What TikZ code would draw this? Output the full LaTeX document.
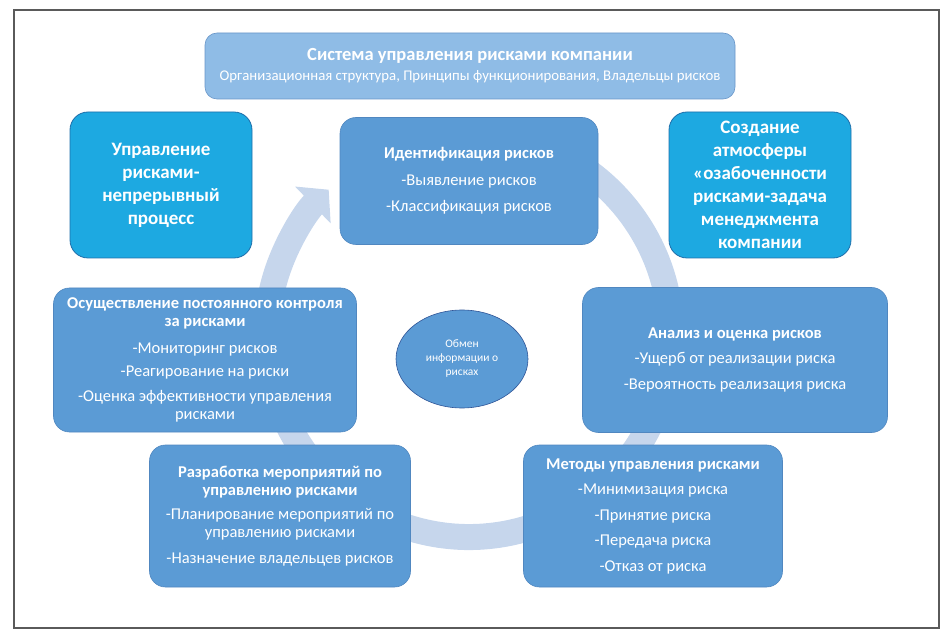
\documentclass[tikz,border=0pt]{standalone}
\usepackage{fontspec}
\setmainfont{Carlito}
\usetikzlibrary{arrows.meta, shapes.geometric}

\definecolor{stageblue}{RGB}{91,155,213}
\definecolor{stageedge}{RGB}{80,135,192}
\definecolor{noteblue}{RGB}{29,169,225}
\definecolor{noteedge}{RGB}{30,110,170}
\definecolor{headblue}{RGB}{143,188,230}
\definecolor{headedge}{RGB}{105,150,200}
\definecolor{ringblue}{RGB}{198,214,236}
\definecolor{framegray}{RGB}{90,90,90}
\definecolor{infoedge}{RGB}{47,85,151}

\begin{document}
\begin{tikzpicture}[x=1pt, y=-1pt,
  stage/.style={rectangle, rounded corners=16pt, fill=stageblue, draw=stageedge, line width=0.6pt,
    text=white, align=center, inner sep=0pt, font=\fontsize{16.5}{18.5}\selectfont},
  note/.style={rectangle, rounded corners=18pt, fill=noteblue, draw=noteedge, line width=0.8pt,
    text=white, align=center, inner sep=0pt, minimum width=182pt, minimum height=146pt,
    font=\bfseries\fontsize{19}{23}\selectfont},
  ring/.style={line width=26pt, draw=ringblue, -{Triangle[width=50pt,length=22pt]}}]

  \useasboundingbox (0,0) rectangle (951,636);
  \draw[framegray, line width=1.3pt] (14,10) rectangle (939,628);

  % Ring
  \coordinate (hub) at (469,335);
  \draw[ring] ([shift={(-70:202)}]hub) arc[start angle=-70, end angle=226, radius=202];

  % Nodes
  \node[rectangle, rounded corners=12pt, fill=headblue, draw=headedge, line width=0.6pt, text=white,
    align=center, inner sep=0pt, minimum width=530pt, minimum height=66pt,
    font=\fontsize{14.8}{20}\selectfont] (sys) at (470,66)
    {{\bfseries\fontsize{18.5}{20}\selectfont Система управления рисками компании}\\
     Организационная структура, Принципы функционирования, Владельцы рисков};

  \node[note] (cont) at (161,185) {Управление\\рисками-\\непрерывный\\процесс};
  \node[note] (mood) at (760,185) {Создание\\атмосферы\\«озабоченности\\рисками-задача\\менеджмента\\компании};

  \node[stage, minimum width=258pt, minimum height=127pt] (ident) at (469,181)
    {\textbf{Идентификация рисков}\\[8pt]-Выявление рисков\\[8pt]-Классификация рисков};
  \node[stage, minimum width=305pt, minimum height=145pt] (anal) at (735,360)
    {\textbf{Анализ и оценка рисков}\\[7pt]-Ущерб от реализации риска\\[7pt]-Вероятность реализация риска};
  \node[stage, minimum width=259pt, minimum height=142pt] (meth) at (653,516)
    {\textbf{Методы управления рисками}\\[7pt]-Минимизация риска\\[7pt]-Принятие риска\\[7pt]-Передача риска\\[7pt]-Отказ от риска};
  \node[stage, minimum width=261pt, minimum height=142pt] (plan) at (280,516)
    {\textbf{Разработка мероприятий по}\\\textbf{управлению рисками}\\[5pt]-Планирование мероприятий по\\управлению рисками\\[7pt]-Назначение владельцев рисков};
  \node[stage, minimum width=303pt, minimum height=144pt] (ctrl) at (205,360)
    {\textbf{Осуществление постоянного контроля}\\\textbf{за рисками}\\[8pt]-Мониторинг рисков\\[5pt]-Реагирование на риски\\[6pt]-Оценка эффективности управления\\рисками};

  \node[ellipse, fill=stageblue, draw=infoedge, line width=0.6pt, text=white,
    align=center, inner sep=0pt, minimum width=132pt, minimum height=98pt,
    font=\fontsize{11.5}{14}\selectfont] (info) at (462,359) {Обмен\\информации о\\рисках};
\end{tikzpicture}
\end{document}
